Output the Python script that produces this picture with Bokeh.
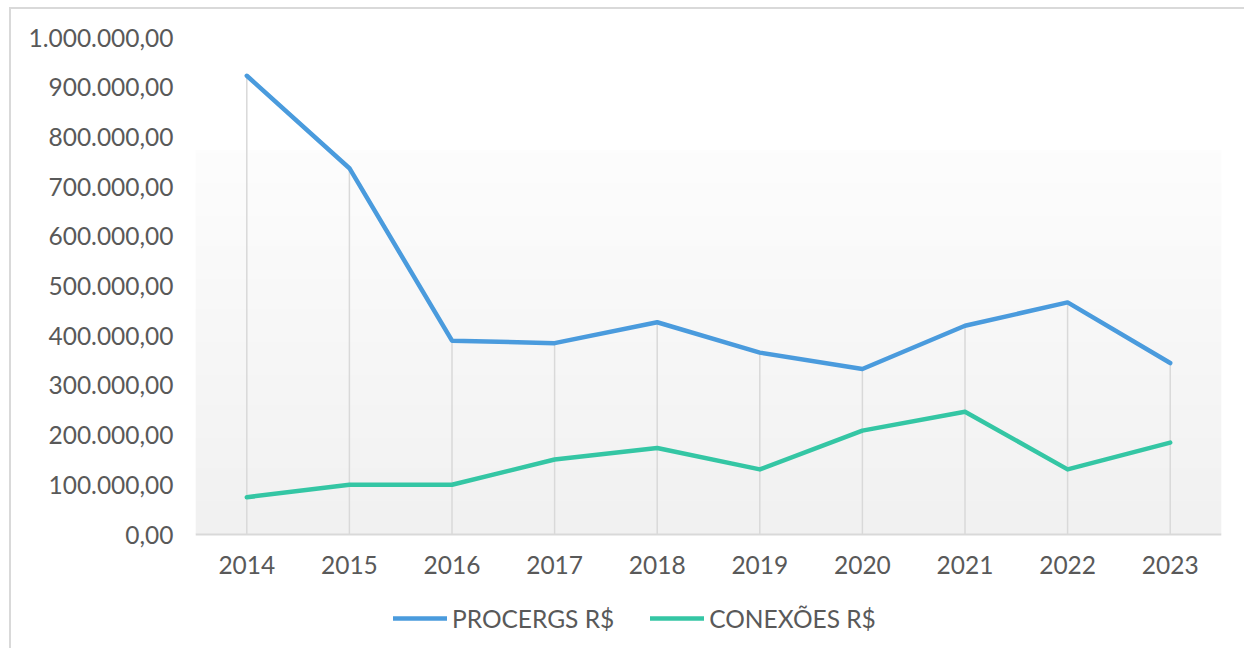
import numpy as np
from bokeh.plotting import figure
from bokeh.models import FactorRange, Range1d, FixedTicker, Legend, LegendItem
from bokeh.embed import file_html
from bokeh.resources import INLINE

years = ["2014", "2015", "2016", "2017", "2018", "2019", "2020", "2021", "2022", "2023"]
procergs = [923000, 737000, 390000, 385000, 427000, 366000, 333000, 420000, 467000, 345000]
conexoes = [75000, 100000, 100000, 151000, 174000, 131000, 209000, 247000, 131000, 185000]
y_ticks = [0, 100000, 200000, 300000, 400000, 500000, 600000, 700000, 800000, 900000, 1000000]
y_tick_labels = ["0,00", "100.000,00", "200.000,00", "300.000,00", "400.000,00", "500.000,00",
                 "600.000,00", "700.000,00", "800.000,00", "900.000,00", "1.000.000,00"]

FONT = "Lato"
FS = "24.5px"
TXT = "#595959"
BLUE = "#4A9BDD"
GREEN = "#34C6A4"

# layout (pixels)
FIG_W, FIG_H = 1235, 641
TOP, BOTTOM = 28, 0
FRAME_H = FIG_H - TOP - BOTTOM
PX_PER_MILLION = 497.0
y_max = 1000000
y_min = -(FRAME_H / PX_PER_MILLION - 1.0) * y_max

p = figure(width=FIG_W, height=FIG_H, x_range=FactorRange(*years), y_range=Range1d(y_min, y_max),
           output_backend="svg", toolbar_location=None,
           min_border_left=184, min_border_right=25, min_border_top=TOP, min_border_bottom=BOTTOM)
p.styles = {"margin-left": "9px", "margin-top": "7px",
            "border-top": "2px solid #d9d9d9", "border-left": "2px solid #d9d9d9"}
p.outline_line_color = None
p.background_fill_color = "white"
p.border_fill_color = "white"
p.xgrid.visible = False
p.ygrid.visible = False

# gradient background of plot area
n = 128
grad_top = 773000
shades = np.linspace(241, 253, n)  # bottom -> top
img = np.zeros((n, 1), dtype=np.uint32)
view = img.view(dtype=np.uint8).reshape((n, 1, 4))
for i, s in enumerate(shades):
    view[i, 0, 0] = int(s)
    view[i, 0, 1] = int(s)
    view[i, 0, 2] = int(s)
    view[i, 0, 3] = 255
p.image_rgba(image=[img], x=0, y=0, dw=len(years), dh=grad_top)

# drop lines
p.segment(x0=years, y0=[0] * len(years), x1=years, y1=procergs, line_color="#d9d9d9", line_width=1.5)

r1 = p.line(years, procergs, line_color=BLUE, line_width=4.5, line_cap="round", line_join="round")
r2 = p.line(years, conexoes, line_color=GREEN, line_width=4.5, line_cap="round", line_join="round")

# axes
p.yaxis.ticker = FixedTicker(ticks=y_ticks)
p.yaxis.major_label_overrides = {t: l for t, l in zip(y_ticks, y_tick_labels)}
p.yaxis.axis_line_color = None
p.yaxis.major_tick_line_color = None
p.yaxis.minor_tick_line_color = None
p.yaxis.major_label_standoff = 16
p.yaxis.major_label_text_font = FONT
p.yaxis.major_label_text_font_size = FS
p.yaxis.major_label_text_color = TXT

p.xaxis.fixed_location = 0
p.xaxis.axis_line_color = "#d9d9d9"
p.xaxis.axis_line_width = 2
p.xaxis.major_tick_line_color = None
p.xaxis.minor_tick_line_color = None
p.xaxis.major_label_standoff = 15
p.xaxis.major_label_text_font = FONT
p.xaxis.major_label_text_font_size = FS
p.xaxis.major_label_text_color = TXT

legend = Legend(items=[LegendItem(label="PROCERGS R$", renderers=[r1]),
                       LegendItem(label="CONEXÕES R$", renderers=[r2])],
                orientation="horizontal", location=(198, 17))
legend.label_text_font = FONT
legend.label_text_font_size = FS
legend.label_text_color = TXT
legend.glyph_width = 54
legend.glyph_height = 30
legend.label_height = 30
legend.label_standoff = 5
legend.spacing = 36
legend.padding = 0
legend.margin = 0
legend.border_line_alpha = 0
legend.background_fill_alpha = 0
p.add_layout(legend, "center")

open("out.html", "w").write(file_html(p, INLINE))
